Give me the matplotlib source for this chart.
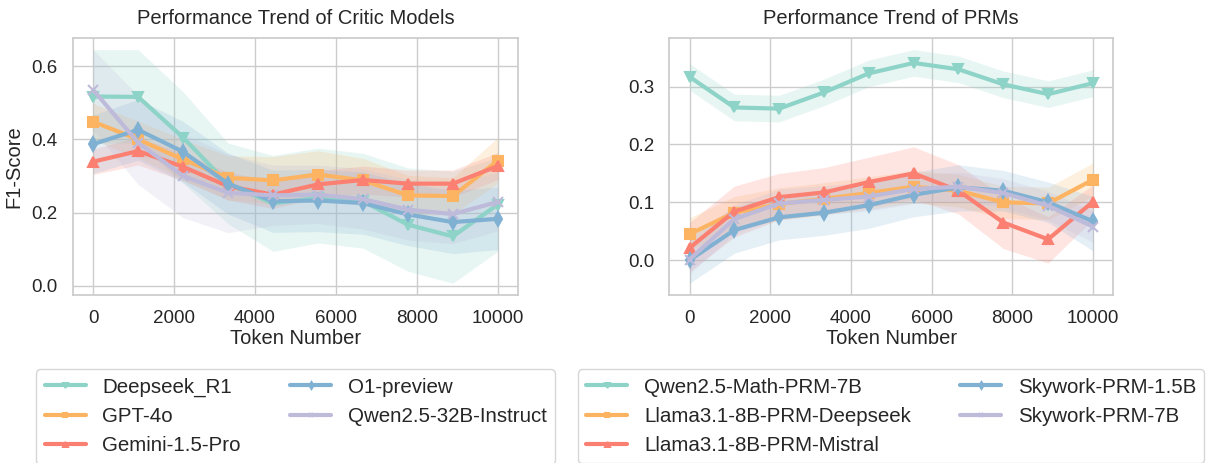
import matplotlib
matplotlib.use("Agg")
import matplotlib.pyplot as plt
import seaborn as sns

sns.set_theme(style="whitegrid")
plt.rcParams['font.family'] = ['Liberation Sans', 'DejaVu Sans']

tokens = [0, 1111, 2222, 3333, 4444, 5556, 6667, 7778, 8889, 10000]

# critic models
critic_names = ["Deepseek_R1", "GPT-4o", "Gemini-1.5-Pro", "O1-preview", "Qwen2.5-32B-Instruct"]
critic_mean = [
    [0.517, 0.516, 0.405, 0.278, 0.225, 0.240, 0.231, 0.167, 0.135, 0.222],
    [0.448, 0.400, 0.345, 0.295, 0.288, 0.304, 0.288, 0.247, 0.245, 0.342],
    [0.339, 0.368, 0.325, 0.272, 0.249, 0.277, 0.289, 0.279, 0.279, 0.327],
    [0.387, 0.426, 0.366, 0.279, 0.231, 0.233, 0.226, 0.195, 0.174, 0.183],
    [0.535, 0.391, 0.300, 0.254, 0.247, 0.249, 0.237, 0.208, 0.196, 0.229],
]
critic_low = [
    [0.390, 0.390, 0.280, 0.170, 0.094, 0.117, 0.103, 0.040, 0.007, 0.094],
    [0.398, 0.350, 0.290, 0.235, 0.223, 0.239, 0.228, 0.192, 0.195, 0.280],
    [0.304, 0.330, 0.287, 0.234, 0.211, 0.239, 0.251, 0.242, 0.242, 0.290],
    [0.307, 0.343, 0.283, 0.196, 0.146, 0.148, 0.141, 0.110, 0.088, 0.099],
    [0.425, 0.277, 0.186, 0.145, 0.165, 0.170, 0.155, 0.125, 0.115, 0.150],
]
critic_high = [
    [0.645, 0.645, 0.530, 0.390, 0.356, 0.376, 0.362, 0.322, 0.313, 0.350],
    [0.498, 0.450, 0.400, 0.355, 0.353, 0.369, 0.348, 0.302, 0.295, 0.405],
    [0.374, 0.406, 0.363, 0.310, 0.287, 0.315, 0.327, 0.316, 0.316, 0.364],
    [0.467, 0.509, 0.449, 0.362, 0.316, 0.318, 0.311, 0.280, 0.260, 0.270],
    [0.645, 0.520, 0.415, 0.360, 0.330, 0.330, 0.320, 0.290, 0.280, 0.310],
]

# process reward models
prm_names = ["Qwen2.5-Math-PRM-7B", "Llama3.1-8B-PRM-Deepseek", "Llama3.1-8B-PRM-Mistral",
             "Skywork-PRM-1.5B", "Skywork-PRM-7B"]
prm_mean = [
    [0.317, 0.264, 0.262, 0.290, 0.323, 0.341, 0.330, 0.304, 0.287, 0.306],
    [0.045, 0.082, 0.097, 0.106, 0.116, 0.127, 0.120, 0.100, 0.098, 0.139],
    [0.021, 0.084, 0.109, 0.117, 0.135, 0.150, 0.120, 0.065, 0.036, 0.101],
    [0.000, 0.052, 0.074, 0.082, 0.095, 0.113, 0.126, 0.120, 0.100, 0.067],
    [0.001, 0.071, 0.098, 0.104, 0.110, 0.123, 0.127, 0.116, 0.094, 0.058],
]
prm_low = [
    [0.294, 0.241, 0.239, 0.267, 0.300, 0.318, 0.307, 0.281, 0.264, 0.283],
    [0.017, 0.054, 0.069, 0.078, 0.088, 0.099, 0.092, 0.072, 0.070, 0.110],
    [-0.020, 0.040, 0.070, 0.080, 0.092, 0.105, 0.080, 0.020, -0.005, 0.070],
    [-0.040, 0.012, 0.035, 0.043, 0.055, 0.075, 0.085, 0.085, 0.065, 0.016],
    [-0.024, 0.046, 0.073, 0.079, 0.085, 0.098, 0.102, 0.091, 0.069, 0.031],
]
prm_high = [
    [0.340, 0.287, 0.285, 0.313, 0.346, 0.364, 0.353, 0.327, 0.310, 0.329],
    [0.073, 0.110, 0.125, 0.134, 0.144, 0.155, 0.148, 0.128, 0.126, 0.168],
    [0.065, 0.128, 0.150, 0.160, 0.178, 0.196, 0.165, 0.110, 0.075, 0.130],
    [0.040, 0.092, 0.112, 0.122, 0.135, 0.152, 0.165, 0.155, 0.135, 0.110],
    [0.026, 0.096, 0.123, 0.129, 0.135, 0.148, 0.152, 0.141, 0.119, 0.085],
]

colors = ["#8dd3c7", "#fdb462", "#fb8072", "#80b1d3", "#bebada"]
markers = ["v", "s", "^", "d", "x"]


def draw_panel(ax, names, means, lows, highs, title):
    for i, name in enumerate(names):
        ax.fill_between(tokens, lows[i], highs[i], color=colors[i], alpha=0.2, linewidth=0)
        ax.plot(tokens, means[i], color=colors[i], marker=markers[i], markersize=7,
                markeredgecolor=colors[i], markeredgewidth=1.5, linewidth=3, label=name)
    ax.set_title(title, fontsize=14.5, pad=10)
    ax.set_xlabel("Token Number", fontsize=14.5, labelpad=1)
    ax.set_xticks([0, 2000, 4000, 6000, 8000, 10000])
    ax.tick_params(labelsize=13.5, pad=5)
    for s in ax.spines.values():
        s.set_color("0.8")
    leg = ax.legend(loc="upper center", bbox_to_anchor=(0.5, -0.25), ncol=2,
                    fontsize=14.8, frameon=True, markerscale=0.5, columnspacing=2.4)
    leg.get_frame().set_edgecolor("0.8")


fig = plt.figure(figsize=(12.06, 4.63), dpi=100)
ax1 = fig.add_axes([0.0605, 0.363, 0.369, 0.555])
ax2 = fig.add_axes([0.555, 0.363, 0.368, 0.555])

draw_panel(ax1, critic_names, critic_mean, critic_low, critic_high, "Performance Trend of Critic Models")
ax1.set_ylabel("F1-Score", fontsize=14.5, labelpad=6)
ax1.set_yticks([0.0, 0.2, 0.4, 0.6])

draw_panel(ax2, prm_names, prm_mean, prm_low, prm_high, "Performance Trend of PRMs")
ax2.set_yticks([0.0, 0.1, 0.2, 0.3])

fig.savefig("out.png", dpi=100)
